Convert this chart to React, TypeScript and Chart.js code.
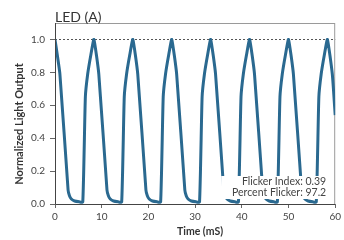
import React, { useEffect, useRef } from "react";
import { Chart, registerables } from "chart.js";

Chart.register(...registerables);

const chartTitle = "LED (A)";
const xAxisTitle = "Time (mS)";
const yAxisTitle = "Normalized Light Output";
const flickerIndexText = "Flicker Index: 0.39";
const percentFlickerText = "Percent Flicker: 97.2";

const xTickValues = [0, 10, 20, 30, 40, 50, 60];
const yTickValues = [0, 0.2, 0.4, 0.6, 0.8, 1.0];

const timeMs = [
  0, 1.05, 2.8, 3.1, 3.5, 4.2, 5.2, 5.95, 6.5, 7.0, 7.7,
  8.33, 9.38, 11.13, 11.43, 11.83, 12.53, 13.53, 14.28, 14.83, 15.33, 16.03,
  16.67, 17.72, 19.47, 19.77, 20.17, 20.87, 21.87, 22.62, 23.17, 23.67, 24.37,
  25.0, 26.05, 27.8, 28.1, 28.5, 29.2, 30.2, 30.95, 31.5, 32.0, 32.7,
  33.33, 34.38, 36.13, 36.43, 36.83, 37.53, 38.53, 39.28, 39.83, 40.33, 41.03,
  41.67, 42.72, 44.47, 44.77, 45.17, 45.87, 46.87, 47.62, 48.17, 48.67, 49.37,
  50.0, 51.05, 52.8, 53.1, 53.5, 54.2, 55.2, 55.95, 56.5, 57.0, 57.7,
  58.33, 59.38, 60.0,
];

const lightOutput = [
  1.0, 0.79, 0.085, 0.05, 0.03, 0.018, 0.013, 0.012, 0.65, 0.79, 0.91,
  1.0, 0.79, 0.085, 0.05, 0.03, 0.018, 0.013, 0.012, 0.65, 0.79, 0.91,
  1.0, 0.79, 0.085, 0.05, 0.03, 0.018, 0.013, 0.012, 0.65, 0.79, 0.91,
  1.0, 0.79, 0.085, 0.05, 0.03, 0.018, 0.013, 0.012, 0.65, 0.79, 0.91,
  1.0, 0.79, 0.085, 0.05, 0.03, 0.018, 0.013, 0.012, 0.65, 0.79, 0.91,
  1.0, 0.79, 0.085, 0.05, 0.03, 0.018, 0.013, 0.012, 0.65, 0.79, 0.91,
  1.0, 0.79, 0.085, 0.05, 0.03, 0.018, 0.013, 0.012, 0.65, 0.79, 0.91,
  1.0, 0.79, 0.54,
];

const FONT = "Lato, 'Liberation Sans', sans-serif";

const decorPlugin = {
  id: "decor",
  beforeDatasetsDraw(chart: any) {
    const { ctx, chartArea, scales } = chart;
    ctx.save();
    ctx.strokeStyle = "#9a9a9a";
    ctx.lineWidth = 1;
    ctx.strokeRect(chartArea.left + 0.5, chartArea.top + 0.5, chartArea.right - chartArea.left - 1, chartArea.bottom - chartArea.top);
    const y1 = Math.round(scales.y.getPixelForValue(1.0)) + 0.5;
    ctx.strokeStyle = "#555";
    ctx.setLineDash([2, 2]);
    ctx.beginPath();
    ctx.moveTo(chartArea.left, y1);
    ctx.lineTo(chartArea.right, y1);
    ctx.stroke();
    ctx.setLineDash([]);
    ctx.restore();
  },
  afterDatasetsDraw(chart: any) {
    const { ctx, chartArea } = chart;
    ctx.save();
    ctx.fillStyle = "#ffffff";
    ctx.fillRect(chartArea.right - 114, chartArea.bottom - 28, 111, 23);
    ctx.fillStyle = "#444";
    ctx.font = `10.5px ${FONT}`;
    ctx.textAlign = "right";
    ctx.textBaseline = "middle";
    ctx.fillText(flickerIndexText, chartArea.right - 9, chartArea.bottom - 22);
    ctx.fillText(percentFlickerText, chartArea.right - 9, chartArea.bottom - 11);
    ctx.strokeStyle = "#444";
    ctx.lineWidth = 1;
    ctx.beginPath();
    ctx.moveTo(chartArea.left + 0.5, chartArea.top);
    ctx.lineTo(chartArea.left + 0.5, chartArea.bottom + 0.5);
    ctx.lineTo(chartArea.right, chartArea.bottom + 0.5);
    ctx.stroke();
    ctx.restore();
  },
  afterDraw(chart: any) {
    const { ctx, chartArea } = chart;
    ctx.save();
    ctx.fillStyle = "#333";
    ctx.font = `14px ${FONT}`;
    ctx.textAlign = "left";
    ctx.textBaseline = "middle";
    ctx.fillText(chartTitle, chartArea.left, 17);
    ctx.font = `bold 10.5px ${FONT}`;
    ctx.textAlign = "center";
    ctx.fillText(xAxisTitle, 200, 232);
    ctx.font = `bold 11px ${FONT}`;
    ctx.translate(19, 124);
    ctx.rotate(-Math.PI / 2);
    ctx.fillText(yAxisTitle, 0, 0);
    ctx.restore();
  },
};

export default function App() {
  const canvasRef = useRef<HTMLCanvasElement | null>(null);

  useEffect(() => {
    if (!canvasRef.current) return;
    const points = timeMs.map((t, i) => ({ x: t, y: lightOutput[i] }));
    const chart = new Chart(canvasRef.current, {
      type: "line",
      data: {
        datasets: [
          {
            data: points,
            borderColor: "#2a6990",
            borderWidth: 3,
            borderJoinStyle: "round",
            pointRadius: 0,
            tension: 0.15,
            fill: false,
          },
        ],
      },
      options: {
        responsive: false,
        animation: false,
        layout: { padding: { top: 23, right: 4, left: 0, bottom: 0 } },
        plugins: {
          legend: { display: false },
          tooltip: { enabled: false },
          title: { display: false },
        },
        scales: {
          x: {
            type: "linear",
            min: 0,
            max: 60,
            afterBuildTicks: (scale: any) => {
              scale.ticks = xTickValues.map((v) => ({ value: v }));
            },
            afterFit: (scale: any) => {
              scale.height = 36;
            },
            border: { display: false },
            grid: {
              drawOnChartArea: false,
              drawTicks: true,
              tickLength: 4,
              color: "#666",
            },
            ticks: {
              color: "#444",
              padding: 3,
              maxRotation: 0,
              font: { family: FONT, size: 10 },
              callback: (v: any) => String(v),
            },
          },
          y: {
            min: 0,
            max: 1.1,
            afterBuildTicks: (scale: any) => {
              scale.ticks = yTickValues.map((v) => ({ value: v }));
            },
            afterFit: (scale: any) => {
              scale.width = 55;
            },
            border: { display: false },
            grid: {
              drawOnChartArea: false,
              drawTicks: true,
              tickLength: 5,
              color: "#666",
            },
            ticks: {
              color: "#444",
              padding: 5,
              font: { family: FONT, size: 10 },
              callback: (v: any) => Number(v).toFixed(1),
            },
          },
        },
      },
      plugins: [decorPlugin],
    } as any);
    return () => chart.destroy();
  }, []);

  return (
    <div style={{ position: "fixed", left: 0, top: 0, width: 344, height: 240, background: "#fff" }}>
      <canvas ref={canvasRef} width={344} height={240} />
    </div>
  );
}
